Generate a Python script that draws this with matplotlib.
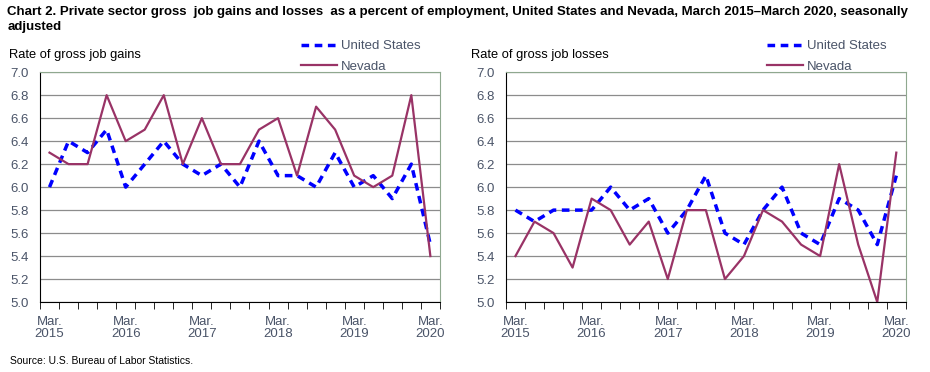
import numpy as np
import matplotlib
matplotlib.use("Agg")
import matplotlib.pyplot as plt

plt.rcParams['font.family'] = ['Liberation Sans', 'DejaVu Sans']

quarters = ["Mar.\n2015", "Mar.\n2016", "Mar.\n2017", "Mar.\n2018", "Mar.\n2019", "Mar.\n2020"]

us_gains = [6.0, 6.4, 6.3, 6.5, 6.0, 6.2, 6.4, 6.2, 6.1, 6.2, 6.0,
            6.4, 6.1, 6.1, 6.0, 6.3, 6.0, 6.1, 5.9, 6.2, 5.5]
nv_gains = [6.3, 6.2, 6.2, 6.8, 6.4, 6.5, 6.8, 6.2, 6.6, 6.2, 6.2,
            6.5, 6.6, 6.1, 6.7, 6.5, 6.1, 6.0, 6.1, 6.8, 5.4]
us_losses = [5.8, 5.7, 5.8, 5.8, 5.8, 6.0, 5.8, 5.9, 5.6, 5.8, 6.1,
             5.6, 5.5, 5.8, 6.0, 5.6, 5.5, 5.9, 5.8, 5.5, 6.1]
nv_losses = [5.4, 5.7, 5.6, 5.3, 5.9, 5.8, 5.5, 5.7, 5.2, 5.8, 5.8,
             5.2, 5.4, 5.8, 5.7, 5.5, 5.4, 6.2, 5.5, 5.0, 6.3]

US_COLOR = "#0000FF"
NV_COLOR = "#993366"
LABEL_COLOR = "#4a5468"
FRAME = "#8fa88f"

fig = plt.figure(figsize=(9.3, 3.72), dpi=100)
fig.text(0.008, 0.985,
         "Chart 2. Private sector gross  job gains and losses  as a percent of employment, United States and Nevada, March 2015\u2013March 2020, seasonally\nadjusted",
         fontsize=9.5, fontweight='bold', va='top', ha='left', linespacing=1.35)
fig.text(0.011, 0.015, "Source: U.S. Bureau of Labor Statistics.", fontsize=7.5, va='bottom')

panels = [
    ([0.043, 0.188, 0.430, 0.618], us_gains, nv_gains, "Rate of gross job gains", 0.010),
    ([0.544, 0.188, 0.430, 0.618], us_losses, nv_losses, "Rate of gross job losses", 0.506),
]

for rect, us, nv, ylabel, lx in panels:
    ax = fig.add_axes(rect)
    x = np.arange(len(us)) + 0.5
    ax.plot(x, us, color=US_COLOR, lw=2.5, ls=(0, (2.2, 1.6)), label="United States")
    ax.plot(x, nv, color=NV_COLOR, lw=1.6, label="Nevada")
    ax.set_xlim(0, len(us))
    ax.set_ylim(5.0, 7.0)
    ax.set_yticks(np.arange(5.0, 7.01, 0.2))
    ax.set_yticklabels([f"{v:.1f}" for v in np.arange(5.0, 7.01, 0.2)])
    ax.yaxis.grid(True, color="#8c8c8c", lw=0.9)
    ax.set_axisbelow(True)
    ax.tick_params(axis='y', length=0, labelsize=9.5, labelcolor=LABEL_COLOR, pad=8)
    ax.set_xticks(np.arange(0, len(us) + 1), minor=True)
    ax.set_xticks(x[::4])
    ax.set_xticklabels(quarters, linespacing=1.0)
    ax.tick_params(axis='x', which='minor', length=5, direction='out', color='black')
    ax.tick_params(axis='x', which='major', length=0, labelsize=9.5, labelcolor=LABEL_COLOR, pad=10)
    ax.spines['left'].set_color('black')
    ax.spines['bottom'].set_color('black')
    ax.spines['top'].set_color(FRAME)
    ax.spines['right'].set_color(FRAME)
    fig.text(lx, 0.835, ylabel, fontsize=9.3, va='bottom', ha='left')
    ax.legend(loc='lower left', bbox_to_anchor=(0.64, 0.975), frameon=False,
              fontsize=9.5, handlelength=2.7, handletextpad=0.3, labelspacing=0.6,
              borderaxespad=0, labelcolor=LABEL_COLOR)

fig.savefig("out.png", dpi=100)
